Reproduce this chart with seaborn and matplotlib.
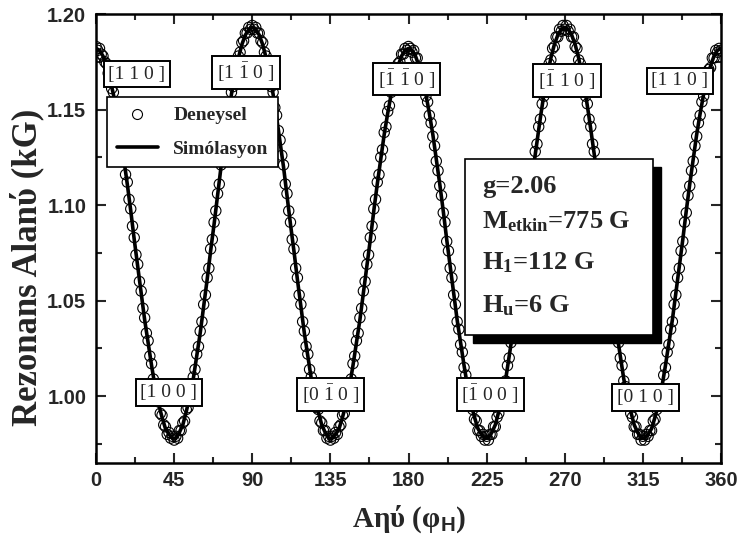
import numpy as np
import pandas as pd
import matplotlib
matplotlib.use('Agg')
import matplotlib.pyplot as plt
import seaborn as sns
from matplotlib.lines import Line2D
from matplotlib.patches import Rectangle
from matplotlib.ticker import MultipleLocator, FormatStrFormatter

# ---------------- data ----------------
# experimental resonance field (kG), 1 degree steps
exp_field_q1 = [1.183, 1.181, 1.182, 1.179, 1.178, 1.175, 1.174, 1.169, 1.167, 1.161,
                1.159, 1.152, 1.149, 1.141, 1.138, 1.129, 1.125, 1.116, 1.112, 1.103,
                1.098, 1.089, 1.083, 1.074, 1.069, 1.060, 1.055, 1.046, 1.041, 1.033,
                1.029, 1.021, 1.017, 1.009, 1.006, 1.000, 0.997, 0.991, 0.990, 0.985,
                0.984, 0.980, 0.981, 0.978, 0.979, 0.977, 0.979, 0.978, 0.982, 0.982,
                0.986, 0.987, 0.993, 0.994, 1.001, 1.003, 1.010, 1.014, 1.022, 1.026,
                1.034, 1.039, 1.048, 1.053, 1.062, 1.067, 1.077, 1.082, 1.091, 1.097,
                1.106, 1.111, 1.121, 1.126, 1.134, 1.139, 1.147, 1.151, 1.159, 1.162,
                1.169, 1.172, 1.178, 1.180, 1.185, 1.186, 1.190, 1.190, 1.193, 1.192,
                1.194]
exp_field_q2 = [1.192, 1.193, 1.190, 1.190, 1.186, 1.185, 1.180, 1.178, 1.172, 1.169,
                1.162, 1.159, 1.151, 1.147, 1.139, 1.134, 1.126, 1.121, 1.111, 1.106,
                1.097, 1.091, 1.082, 1.077, 1.067, 1.062, 1.053, 1.048, 1.039, 1.034,
                1.026, 1.022, 1.014, 1.010, 1.003, 1.001, 0.994, 0.993, 0.987, 0.986,
                0.982, 0.982, 0.978, 0.979, 0.977, 0.979, 0.978, 0.981, 0.980, 0.984,
                0.985, 0.990, 0.991, 0.997, 1.000, 1.006, 1.009, 1.017, 1.021, 1.029,
                1.033, 1.041, 1.046, 1.055, 1.060, 1.069, 1.074, 1.083, 1.089, 1.098,
                1.103, 1.112, 1.116, 1.125, 1.129, 1.138, 1.141, 1.149, 1.152, 1.159,
                1.161, 1.167, 1.169, 1.174, 1.175, 1.179, 1.179, 1.182, 1.181, 1.183]
exp_field_q3 = [1.182, 1.180, 1.181, 1.177, 1.177, 1.172, 1.171, 1.165, 1.163, 1.157,
                1.154, 1.147, 1.143, 1.136, 1.131, 1.123, 1.118, 1.110, 1.105, 1.096,
                1.091, 1.081, 1.076, 1.067, 1.062, 1.053, 1.048, 1.039, 1.035, 1.027,
                1.023, 1.015, 1.011, 1.004, 1.002, 0.995, 0.993, 0.988, 0.987, 0.982,
                0.982, 0.979, 0.980, 0.977, 0.979, 0.977, 0.980, 0.980, 0.984, 0.984,
                0.989, 0.991, 0.996, 0.999, 1.005, 1.008, 1.016, 1.020, 1.028, 1.032,
                1.041, 1.046, 1.055, 1.060, 1.069, 1.075, 1.084, 1.089, 1.099, 1.104,
                1.113, 1.119, 1.128, 1.132, 1.141, 1.145, 1.153, 1.157, 1.164, 1.167,
                1.174, 1.176, 1.182, 1.183, 1.188, 1.188, 1.192, 1.191, 1.194, 1.192]
exp_field_q4 = [1.194, 1.191, 1.192, 1.188, 1.188, 1.183, 1.182, 1.176, 1.174, 1.167,
                1.164, 1.157, 1.153, 1.145, 1.141, 1.132, 1.128, 1.119, 1.113, 1.104,
                1.099, 1.089, 1.084, 1.075, 1.069, 1.060, 1.055, 1.046, 1.041, 1.032,
                1.028, 1.020, 1.016, 1.008, 1.005, 0.999, 0.996, 0.991, 0.989, 0.984,
                0.984, 0.980, 0.980, 0.977, 0.979, 0.977, 0.980, 0.979, 0.982, 0.982,
                0.987, 0.988, 0.993, 0.995, 1.002, 1.004, 1.011, 1.015, 1.023, 1.027,
                1.035, 1.039, 1.048, 1.053, 1.062, 1.067, 1.076, 1.081, 1.091, 1.096,
                1.105, 1.110, 1.118, 1.123, 1.131, 1.136, 1.143, 1.147, 1.154, 1.157,
                1.163, 1.165, 1.171, 1.172, 1.177, 1.177, 1.181, 1.180, 1.182, 1.181]

# simulated resonance field (kG), 2 degree steps
sim_field_a = [1.182, 1.181, 1.178, 1.173, 1.166, 1.158, 1.148, 1.137, 1.124, 1.111,
               1.097, 1.082, 1.068, 1.054, 1.040, 1.028, 1.016, 1.005, 0.996, 0.989,
               0.983, 0.980, 0.978, 0.978, 0.981, 0.985, 0.992, 1.000, 1.009, 1.021,
               1.033, 1.047, 1.061, 1.076, 1.090, 1.105, 1.120, 1.133, 1.146, 1.158,
               1.168, 1.177, 1.184, 1.189, 1.192, 1.193,
               1.192, 1.189, 1.184, 1.177, 1.168, 1.158, 1.146, 1.133, 1.120, 1.105,
               1.090, 1.076, 1.061, 1.047, 1.033, 1.021, 1.009, 1.000, 0.992, 0.985,
               0.981, 0.978, 0.978, 0.980, 0.983, 0.989, 0.996, 1.005, 1.016, 1.028,
               1.040, 1.054, 1.068, 1.082, 1.097, 1.111, 1.124, 1.137, 1.148, 1.158,
               1.166, 1.173, 1.178, 1.181, 1.182]
sim_field_b = [1.181, 1.178, 1.173, 1.166, 1.158, 1.148, 1.137, 1.124, 1.111,
               1.097, 1.082, 1.068, 1.054, 1.040, 1.028, 1.016, 1.005, 0.996, 0.989,
               0.983, 0.980, 0.978, 0.978, 0.981, 0.985, 0.992, 1.000, 1.009, 1.021,
               1.033, 1.047, 1.061, 1.076, 1.090, 1.105, 1.120, 1.133, 1.146, 1.158,
               1.168, 1.177, 1.184, 1.189, 1.192, 1.193,
               1.192, 1.189, 1.184, 1.177, 1.168, 1.158, 1.146, 1.133, 1.120, 1.105,
               1.090, 1.076, 1.061, 1.047, 1.033, 1.021, 1.009, 1.000, 0.992, 0.985,
               0.981, 0.978, 0.978, 0.980, 0.983, 0.989, 0.996, 1.005, 1.016, 1.028,
               1.040, 1.054, 1.068, 1.082, 1.097, 1.111, 1.124, 1.137, 1.148, 1.158,
               1.166, 1.173, 1.178, 1.181, 1.182]

exp_field = exp_field_q1 + exp_field_q2 + exp_field_q3 + exp_field_q4
sim_field = sim_field_a + sim_field_b
exp_angle = np.arange(0, 361, 1)
sim_angle = np.arange(0, 361, 2)

xticks = [0, 45, 90, 135, 180, 225, 270, 315, 360]
yticks = [1.00, 1.05, 1.10, 1.15, 1.20]

dir_labels = ['[1 1 0 ]', r'[1 $\bar{1}$ 0 ]', r'[$\bar{1}$ $\bar{1}$ 0 ]',
              r'[$\bar{1}$ 1 0 ]', '[1 1 0 ]', '[1 0 0 ]', r'[0 $\bar{1}$ 0 ]',
              r'[$\bar{1}$ 0 0 ]', '[0 1 0 ]']
dir_label_pos = [(23.6, 1.1686), (86.4, 1.1696), (178.9, 1.166), (271.3, 1.1654),
                 (336.4, 1.165), (42.0, 1.0018), (135.0, 1.0008), (227.0, 1.0008),
                 (316.5, 0.9992)]

param_lines = ['g=2.06', r'M$_{\mathbf{etkin}}$=775 G', r'H$_{\mathbf{1}}$=112 G',
               r'H$_{\mathbf{u}}$=6 G']

legend_labels = ['Deneysel', 'Simólasyon']

# ---------------- style ----------------
sns.set_style('ticks')
plt.rcParams['font.family'] = ['Liberation Sans', 'DejaVu Sans']
plt.rcParams['mathtext.fontset'] = 'custom'
plt.rcParams['mathtext.rm'] = 'Liberation Serif'
plt.rcParams['mathtext.bf'] = 'Liberation Serif:bold'
plt.rcParams['mathtext.it'] = 'Liberation Serif:italic'
plt.rcParams['mathtext.sf'] = 'Liberation Sans:bold'

fig = plt.figure(figsize=(7.41, 5.52), dpi=100)
ax = fig.add_axes([0.1296, 0.1612, 0.8434, 0.8134])

exp_df = pd.DataFrame({'angle': exp_angle, 'field': exp_field})
sim_df = pd.DataFrame({'angle': sim_angle, 'field': sim_field})

sns.scatterplot(data=exp_df, x='angle', y='field', marker='o', s=55,
                color='black', linewidth=0.8, ax=ax, zorder=2, legend=False)
coll = ax.collections[-1]
coll.set_facecolor('none')
coll.set_edgecolor('black')

sns.lineplot(data=sim_df, x='angle', y='field', color='black', lw=2.6,
             ax=ax, zorder=3, legend=False)

ax.set_xlim(0, 360)
ax.set_ylim(0.965, 1.20)
ax.set_xticks(xticks)
ax.set_yticks(yticks)
ax.xaxis.set_minor_locator(MultipleLocator(22.5))
ax.yaxis.set_minor_locator(MultipleLocator(0.025))
ax.yaxis.set_major_formatter(FormatStrFormatter('%.2f'))
ax.tick_params(which='both', direction='in', top=True, right=True, width=1.5,
               labelsize=14.5)
ax.tick_params(which='major', length=7)
ax.tick_params(which='minor', length=4)
ax.tick_params(axis='x', pad=6)
ax.tick_params(axis='y', pad=7)
for lab in ax.get_xticklabels() + ax.get_yticklabels():
    lab.set_fontweight('bold')
for sp in ax.spines.values():
    sp.set_linewidth(1.8)
    sp.set_color('black')

ax.set_ylabel('Rezonans Alanύ (kG)', fontfamily='Liberation Serif',
              fontweight='bold', fontsize=25)
ax.yaxis.set_label_coords(-0.082, 0.4365)
ax.set_xlabel(r'Aηύ (φ$_{\mathsf{H}}$)', fontfamily='Liberation Serif',
              fontweight='bold', fontsize=21, labelpad=9)

for lab, (lx, ly) in zip(dir_labels, dir_label_pos):
    ax.text(lx, ly, lab, ha='center', va='center', fontfamily='Liberation Serif',
            fontsize=14, zorder=4,
            bbox=dict(boxstyle='square,pad=0.25', fc='white', ec='black', lw=1.4))

# parameter box with shadow
bx, by, bw, bh = 0.5904, 0.285, 0.3006, 0.392
ax.add_patch(Rectangle((bx + 0.0128, by - 0.0178), bw, bh, transform=ax.transAxes,
                       fc='black', ec='black', zorder=5))
ax.add_patch(Rectangle((bx, by), bw, bh, transform=ax.transAxes,
                       fc='white', ec='black', lw=1.2, zorder=6))
for txt, yb in zip(param_lines, [0.601, 0.5234, 0.432, 0.336]):
    ax.text(0.6176, yb, txt, transform=ax.transAxes, ha='left', va='baseline',
            fontfamily='Liberation Serif', fontweight='bold', fontsize=19, zorder=7)

handles = [Line2D([], [], marker='o', ls='', mfc='none', mec='black', ms=7.2, mew=0.8),
           Line2D([], [], color='black', lw=2.6)]
leg = ax.legend(handles, legend_labels, loc='upper left', bbox_to_anchor=(0.0176, 0.815),
                prop={'family': 'Liberation Serif', 'weight': 'bold', 'size': 14},
                frameon=True, fancybox=False, framealpha=1, edgecolor='black',
                borderpad=0.5, labelspacing=0.8, handlelength=2.1, handletextpad=0.8,
                borderaxespad=0)
leg.get_frame().set_linewidth(1.2)
leg.set_zorder(8)

fig.savefig('out.png', dpi=100)
